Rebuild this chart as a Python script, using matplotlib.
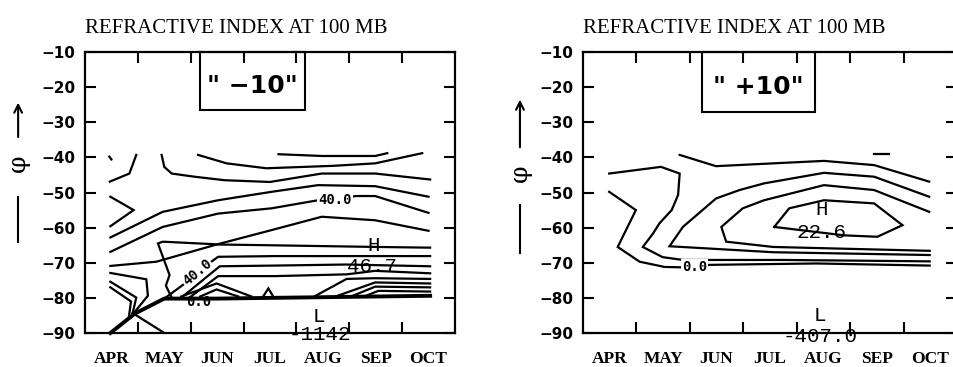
import matplotlib.pyplot as plt
from matplotlib.lines import Line2D
from matplotlib.patches import FancyArrowPatch, Rectangle

# ---- shared axis data -------------------------------------------------------
MONTHS = ['APR', 'MAY', 'JUN', 'JUL', 'AUG', 'SEP', 'OCT']
LAT_TICKS = [-10, -20, -30, -40, -50, -60, -70, -80, -90]
TITLE = 'REFRACTIVE INDEX AT 100 MB'

# contour paths: (month index, latitude); APR = 0
# ---- panel "-10" -----------------------------------------------------------
m10_upper = [
    [(-0.04, -39.8), (0.0, -40.6)],
    [(0.47, -39.3), (0.34, -44.6), (-0.03, -46.9)],
    [(0.95, -39.3), (1.0, -42.7), (1.14, -44.6), (1.57, -45.5), (2.14, -46.5),
     (3.0, -47.0), (3.98, -44.6), (4.99, -44.6), (6.03, -46.3)],
    [(1.64, -39.3), (2.18, -41.7), (2.93, -43.1), (4.2, -42.4), (4.99, -41.7),
     (5.88, -38.8)],
    [(3.16, -39.1), (3.98, -39.6), (4.99, -39.6), (5.22, -38.8)],
    [(-0.02, -51.2), (0.42, -55.0), (-0.02, -59.6)],
    [(-0.02, -62.8), (0.97, -55.5), (2.02, -52.2), (3.03, -49.8), (3.91, -47.9),
     (4.99, -48.2), (6.0, -51.2)],
    [(-0.02, -66.9), (0.97, -59.8), (2.02, -56.0), (3.03, -54.5), (3.91, -52.2),
     (4.64, -51.0), (4.99, -51.0), (6.0, -55.8)],
    [(-0.02, -70.9), (0.85, -69.7), (1.99, -64.8), (3.03, -60.7), (3.98, -56.9),
     (4.99, -57.9), (6.0, -60.9)],
]
m10_lower = [
    [(1.15, -80.2), (1.03, -76.5), (1.1, -73.5), (0.88, -64.5), (0.97, -64.0),
     (1.92, -64.7), (2.0, -64.8), (2.93, -65.0), (5.02, -65.5), (6.03, -65.7)],
    [(1.0, -80.2), (1.39, -75.9), (1.89, -69.7), (2.02, -68.3), (3.09, -68.1),
     (6.03, -68.1)],
    [(1.3, -80.2), (2.05, -71.0), (3.09, -70.8), (4.45, -70.5), (6.03, -71.0)],
    [(1.45, -80.2), (2.02, -73.8), (3.09, -73.8), (4.45, -73.3), (4.99, -72.3),
     (6.03, -73.0)],
    [(1.32, -79.6), (1.99, -75.9), (2.65, -79.6)],
    [(1.68, -79.6), (1.99, -77.6), (2.4, -79.6)],
    [(2.87, -79.6), (2.97, -77.3), (3.06, -79.6)],
    [(3.85, -79.5), (4.45, -74.6), (4.99, -74.4), (6.03, -74.6)],
    [(4.26, -79.5), (4.99, -75.6), (6.03, -75.9)],
    [(4.55, -79.5), (4.99, -76.8), (6.03, -77.0)],
    [(4.8, -79.5), (5.05, -78.0), (6.03, -78.2)],
    [(-0.02, -72.9), (0.66, -74.7), (0.69, -79.4), (0.44, -84.0)],
    [(-0.02, -75.4), (0.47, -79.9), (0.4, -84.5)],
    [(-0.02, -77.0), (0.37, -81.0), (0.33, -85.5)],
    [(0.4, -84.3), (0.97, -89.7)],
]
m10_edge = [(-0.02, -90.0), (0.44, -84.5), (1.0, -80.2), (1.99, -80.2),
            (4.0, -79.8), (6.03, -79.4)]
# contour labels: (text, month, lat, rotation)
m10_clabels = [('40.0', 4.23, -52.0, 0), ('40.0', 1.62, -72.8, 40)]
# small garbled label sitting on the thick edge
m10_edge_label = [('0.0', 1.66, -81.2)]
# extrema marks: (text, month, lat)
m10_extrema = [('H', 4.96, -65.0), ('46.7', 4.93, -71.2),
               ('L', 3.92, -85.4), ('-1142', 3.95, -90.4)]

# ---- panel "+10" -----------------------------------------------------------
p10_lines = [
    [(1.31, -39.3), (1.99, -42.5), (3.06, -41.7), (4.01, -41.0), (4.95, -42.2),
     (5.98, -46.9)],
    [(4.95, -39.1), (5.23, -39.1)],
    [(-0.01, -44.6), (0.96, -42.7), (1.31, -44.6), (1.28, -50.7), (1.16, -55.0),
     (0.93, -58.8), (0.81, -61.7), (0.62, -65.5), (0.99, -68.4), (1.37, -69.2),
     (3.24, -69.2), (5.99, -69.6)],
    [(-0.01, -49.8), (0.49, -55.0), (0.15, -65.5), (0.56, -69.7), (1.03, -71.2),
     (1.37, -71.3), (1.87, -70.6), (3.87, -70.2), (5.99, -70.8)],
    [(5.98, -51.2), (4.95, -45.5), (4.01, -44.4), (2.89, -47.4), (2.43, -49.3),
     (1.99, -51.7), (1.37, -59.8), (1.12, -65.3), (3.06, -67.0), (5.99, -67.8)],
    [(5.98, -55.5), (4.95, -49.3), (4.01, -47.9), (2.89, -52.2), (2.49, -54.5),
     (2.09, -59.8), (2.18, -64.0), (3.06, -65.5), (5.99, -66.6)],
    [(3.08, -59.8), (3.36, -54.5), (4.01, -52.2), (4.95, -53.1), (5.48, -59.3),
     (5.01, -62.6), (4.39, -62.2), (3.08, -59.8)],
]
p10_clabels = [('0.0', 1.59, -71.2, 0)]
p10_extrema = [('H', 3.96, -54.8), ('22.6', 3.97, -61.5),
               ('L', 3.94, -85.0), ('-407.0', 3.94, -91.0)]


def draw_panel(ax, lines, clabels, extrema, tag, box, edge=None, edge_labels=()):
    for path in lines:
        xs, ys = zip(*path)
        ax.plot(xs, ys, color='black', lw=1.6, solid_joinstyle='miter', clip_on=False)
    if edge is not None:
        xs, ys = zip(*edge)
        ax.plot(xs, ys, color='black', lw=2.8, clip_on=False)
    for text, x, y, rot in clabels:
        ax.text(x, y, text, ha='center', va='center', rotation=rot, fontsize=10,
                family='DejaVu Sans Mono', fontweight='bold', zorder=5,
                bbox=dict(facecolor='white', edgecolor='none', pad=0.6))
    for text, x, y in edge_labels:
        ax.text(x, y, text, ha='center', va='center', fontsize=10,
                family='DejaVu Sans Mono', fontweight='bold', zorder=5)
    for text, x, y in extrema:
        ax.text(x, y, text, ha='center', va='center', fontsize=15,
                family='Liberation Mono', clip_on=False, zorder=6)

    # the hand-drawn case box hanging off the top spine
    x0, x1, y0 = box
    ax.add_patch(Rectangle((x0, y0), x1 - x0, -10 - y0, fill=False, lw=1.5,
                           edgecolor='black', clip_on=False))
    ax.text((x0 + x1) / 2, (y0 - 10) / 2 - 1.5, tag, ha='center', va='center',
            fontsize=18, fontweight='bold', family='DejaVu Sans')

    ax.set_xlim(-0.5, 6.5)
    ax.set_ylim(-90, -10)
    ax.set_xticks(range(len(MONTHS)), labels=MONTHS, family='Liberation Serif',
                  fontweight='bold', fontsize=12.5)
    ax.set_xticks([i + 0.5 for i in range(len(MONTHS) - 1)], minor=True)
    ax.set_yticks(LAT_TICKS, labels=[f'\u2212{abs(v)}' for v in LAT_TICKS],
                  fontweight='bold', fontsize=11, family='DejaVu Sans')
    ax.tick_params(axis='x', which='major', length=0, pad=13)
    ax.tick_params(axis='x', which='minor', direction='in', length=8, width=1.5,
                   top=True, bottom=True)
    ax.tick_params(axis='y', direction='in', length=8, width=1.5, pad=7,
                   left=True, right=True)
    for sp in ax.spines.values():
        sp.set_linewidth(1.6)
    ax.set_title(TITLE, loc='left', fontsize=15, family='Liberation Serif', pad=14)


def phi_label(fig, x, line_y, phi_y, arrow_y):
    fig.add_artist(Line2D([x, x], line_y, transform=fig.transFigure,
                          color='black', lw=1.5))
    fig.text(x, phi_y, '\u03c6', rotation=90, ha='center', va='center',
             fontsize=18, family='DejaVu Serif')
    fig.add_artist(FancyArrowPatch((x, arrow_y[0]), (x, arrow_y[1]),
                                   transform=fig.transFigure, arrowstyle='->',
                                   mutation_scale=14, lw=1.5, color='black'))


fig = plt.figure(figsize=(9.54, 3.67), dpi=100)
ax_l = fig.add_axes([0.0891, 0.0926, 0.3878, 0.7657])
ax_r = fig.add_axes([0.6111, 0.0926, 0.3920, 0.7657])

draw_panel(ax_l, m10_upper + m10_lower, m10_clabels, m10_extrema,
           '" \u221210"', (1.67, 3.66, -26.5), edge=m10_edge,
           edge_labels=m10_edge_label)
draw_panel(ax_r, p10_lines, p10_clabels, p10_extrema,
           '" +10"', (1.72, 3.84, -27.0))

phi_label(fig, 0.019, (0.341, 0.463), 0.556, (0.619, 0.728))
phi_label(fig, 0.545, (0.311, 0.441), 0.529, (0.591, 0.736))

fig.savefig('out.png', dpi=100)
plt.close(fig)
